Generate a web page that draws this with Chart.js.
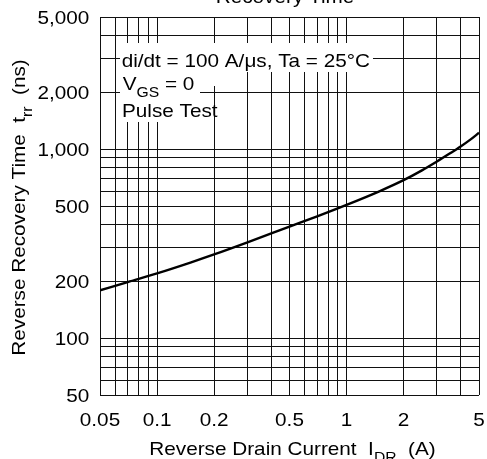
<!DOCTYPE html>
<html><head><meta charset="utf-8">
<script src="https://cdn.jsdelivr.net/npm/chart.js@4.4.0/dist/chart.umd.min.js"></script>
<style>html,body{margin:0;padding:0;background:#fff;}</style>
</head><body>
<canvas id="c" width="487" height="459"></canvas>
<script>
// Data
const currentA = [0.05, 0.07, 0.1, 0.15, 0.2, 0.3, 0.5, 0.7, 1, 1.5, 2, 2.5, 3, 3.5, 4, 4.5, 5];
const trrNs    = [179, 198, 220, 251, 277, 321, 389, 441, 507, 600, 685, 772, 860, 947, 1032, 1122, 1220];

// Grid ticks
const xGridValues = [0.05,0.06,0.07,0.08,0.09,0.1,0.2,0.3,0.4,0.5,0.6,0.7,0.8,0.9,1,2,3,4,5];
const yGridValues = [50,60,70,80,90,100,200,300,400,500,600,700,800,900,1000,2000,3000,4000,5000];

// Tick labels
const xLabelValues = [0.05, 0.1, 0.2, 0.5, 1, 2, 5];
const xLabelTexts  = ['0.05','0.1','0.2','0.5','1','2','5'];
const yLabelValues = [50, 100, 200, 500, 1000, 2000, 5000];
const yLabelTexts  = ['50','100','200','500','1,000','2,000','5,000'];

const FONT = '"Liberation Sans", Arial, Helvetica, sans-serif';
const MAIN = 18.5, SUB = 14, SX = 1.12;

function partsWidth(ctx, parts){
  let w = 0;
  for (const p of parts){ ctx.font = (p.sub?SUB:MAIN)+'px '+FONT; w += ctx.measureText(p.t).width; }
  return w;
}
function drawParts(ctx, parts, x, y, align, angle){
  ctx.save();
  ctx.translate(x, y);
  if (angle) ctx.rotate(angle);
  ctx.scale(SX, 1);
  const w = partsWidth(ctx, parts);
  let cx = align === 'center' ? -w/2 : (align === 'right' ? -w : 0);
  ctx.textAlign = 'left'; ctx.textBaseline = 'alphabetic'; ctx.fillStyle = '#000';
  for (const p of parts){
    ctx.font = (p.sub?SUB:MAIN)+'px '+FONT;
    ctx.fillText(p.t, cx, p.sub ? 6.5 : 0);
    cx += ctx.measureText(p.t).width;
  }
  ctx.restore();
  return w * SX;
}

const line1 = [{t:'di/dt = 100 A/\u03bcs, Ta = 25\u00b0C'}];
const line2 = [{t:'V'},{t:'GS',sub:true},{t:' = 0'}];
const line3 = [{t:'Pulse Test'}];

const textPlugin = {
  id: 'texts',
  afterDatasetsDraw(chart){
    const ctx = chart.ctx;
    const w1 = partsWidth(ctx, line1) * SX;
    // annotation background
    ctx.save();
    ctx.fillStyle = '#fff';
    ctx.fillRect(120, 43, 121.7 + w1 + 3 - 120, 29);
    ctx.fillRect(120, 72, 95, 14);
    ctx.fillRect(120, 86, 80, 12);
    ctx.fillRect(120, 98, 85, 24);
    ctx.restore();
    drawParts(ctx, line1, 121.7, 66.7, 'left');
    drawParts(ctx, line2, 122.7, 90, 'left');
    drawParts(ctx, line3, 122, 116.7, 'left');
  },
  afterDraw(chart){
    const ctx = chart.ctx;
    const xs = chart.scales.x, ys = chart.scales.y;
    xLabelValues.forEach((v,i)=>{
      drawParts(ctx, [{t:xLabelTexts[i]}], xs.getPixelForValue(v), 426, 'center');
    });
    yLabelValues.forEach((v,i)=>{
      drawParts(ctx, [{t:yLabelTexts[i]}], 89.3, ys.getPixelForValue(v) + 6.6, 'right');
    });
    // axis titles
    drawParts(ctx, [{t:'Reverse Drain Current  I'},{t:'DR',sub:true},{t:'  (A)'}], 292.5, 455, 'center');
    drawParts(ctx, [{t:'Reverse Recovery Time  t'},{t:'rr',sub:true},{t:'  (ns)'}], 25, 207.5, 'center', -Math.PI/2);
    // chart title (cut off at the top)
    drawParts(ctx, [{t:'Recovery Time'}], 285, 3, 'center');
  }
};

new Chart(document.getElementById('c'), {
  type: 'line',
  data: { datasets: [{
    data: currentA.map((x,i)=>({x:x, y:trrNs[i]})),
    borderColor: '#000', borderWidth: 2.4, pointRadius: 0,
    cubicInterpolationMode: 'monotone', fill: false
  }]},
  options: {
    responsive: false, animation: false, devicePixelRatio: 1,
    layout: { padding: { top: 17, right: 8, left: 0, bottom: 0 } },
    plugins: { legend: {display:false}, tooltip: {enabled:false}, title: {display:false} },
    scales: {
      x: {
        type: 'logarithmic', min: 0.05, max: 5,
        afterBuildTicks: s => { s.ticks = xGridValues.map(v => ({value: v})); },
        afterFit: s => { s.height = 64; },
        ticks: { display: false },
        grid: { color: '#111', lineWidth: 1, drawTicks: false },
        border: { display: false }
      },
      y: {
        type: 'logarithmic', min: 50, max: 5000,
        afterBuildTicks: s => { s.ticks = yGridValues.map(v => ({value: v})); },
        afterFit: s => { s.width = 100; },
        ticks: { display: false },
        grid: { color: '#111', lineWidth: 1, drawTicks: false },
        border: { display: false }
      }
    }
  },
  plugins: [textPlugin]
});
</script>
</body></html>
